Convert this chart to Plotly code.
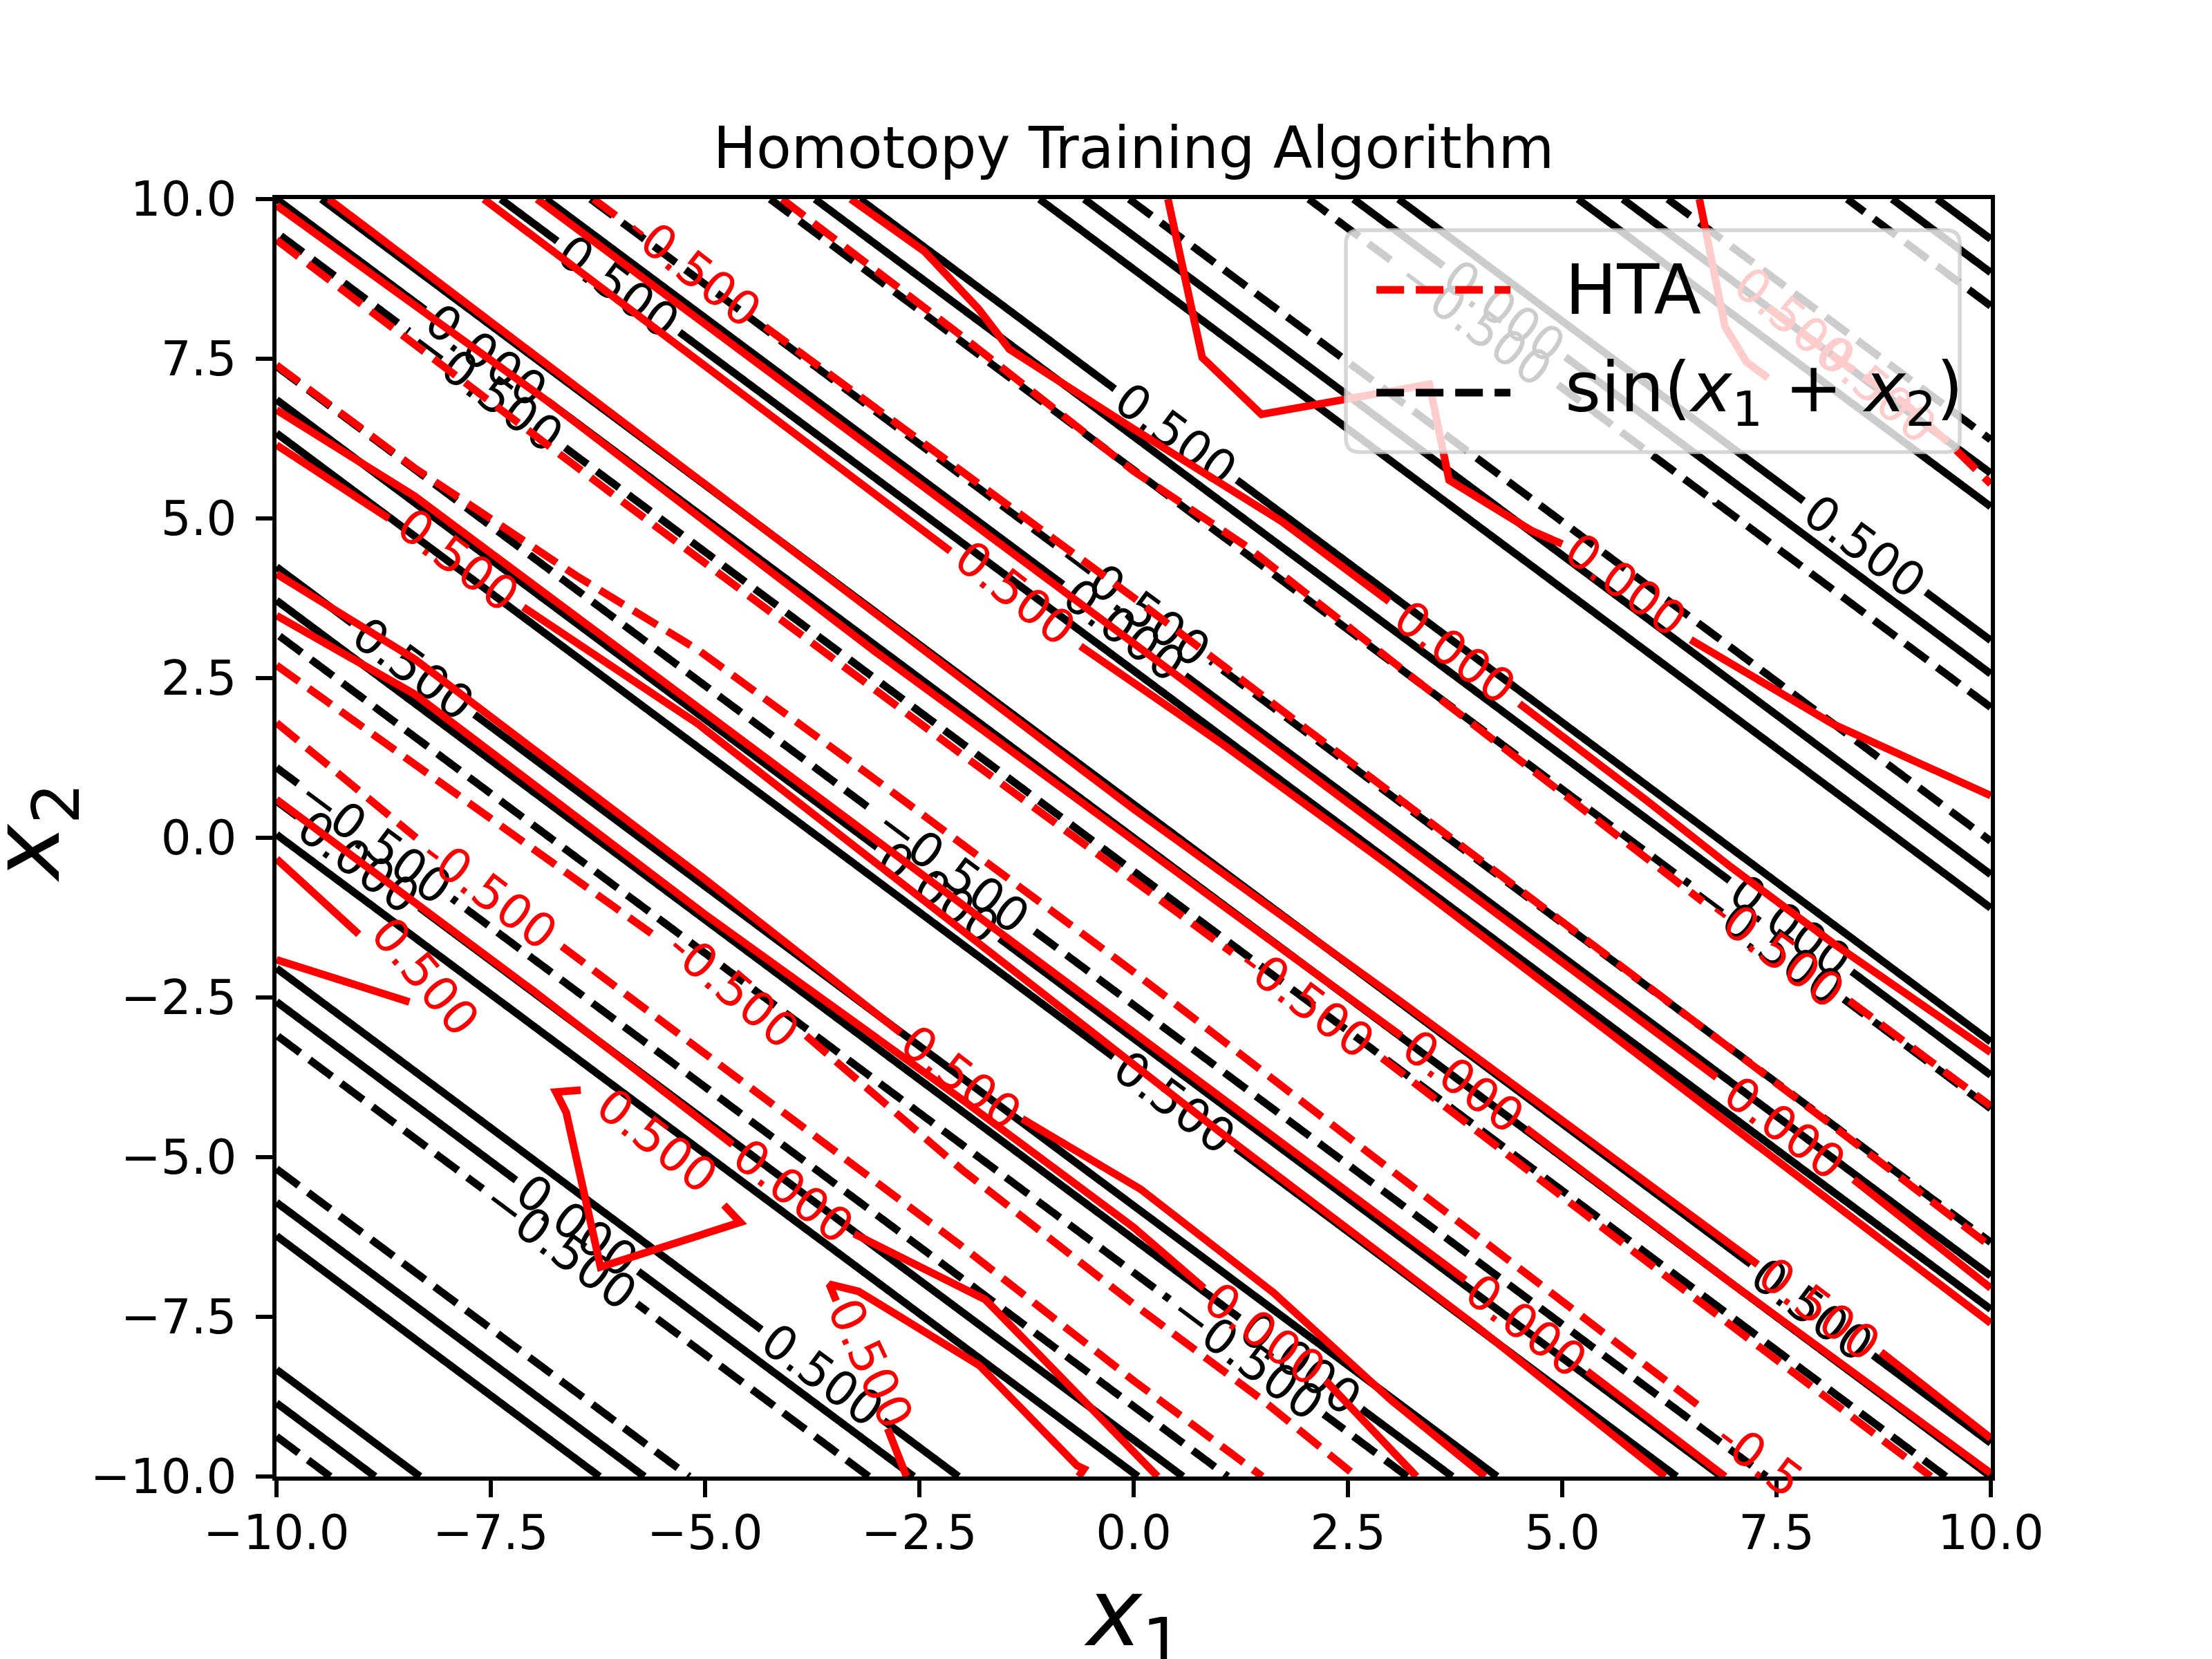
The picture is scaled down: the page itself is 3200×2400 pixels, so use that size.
import numpy as np
import plotly.graph_objects as go

# ---------------- axes / ticks ----------------
x_tick_vals = [-10.0, -7.5, -5.0, -2.5, 0.0, 2.5, 5.0, 7.5, 10.0]
x_tick_text = ["\u221210.0", "\u22127.5", "\u22125.0", "\u22122.5", "0.0", "2.5", "5.0", "7.5", "10.0"]
y_tick_vals = [-10.0, -7.5, -5.0, -2.5, 0.0, 2.5, 5.0, 7.5, 10.0]
y_tick_text = ["\u221210.0", "\u22127.5", "\u22125.0", "\u22122.5", "0.0", "2.5", "5.0", "7.5", "10.0"]

# ---------------- target function sin(x1 + x2) ----------------
x1_samples = np.linspace(-10, 10, 401)
x2_samples = np.linspace(-10, 10, 401)
target_dashed_level = -0.5
target_solid_levels = [0.0, 0.5]

# ---------------- HTA contour lines ----------------
# level 0.5 / 0.0 -> solid, level -0.5 -> dashed ; None = gap under a label
c1_p5_x = [-7.58, -4.5, -2.14, None, -0.62, 1.0, 3.0, 5.5, 8.0, 10.0]
c1_p5_y = [10.0, 6.9, 4.49, None, 3.0, 1.5, -0.45, -3.0, -5.55, -7.6]
c1_0_x = [-6.96, -4.0, -1.0, 2.0, 5.0, 6.8, None, 8.4, 10.0]
c1_0_y = [10.0, 7.05, 4.05, 1.05, -1.95, -3.75, None, -5.35, -7.05]
c1_m5_x = [-6.3, -5.95, None, -4.3, -1.0, 0.0, 2.0, 5.0, 8.0, 10.0]
c1_m5_y = [10.0, 9.65, None, 8.0, 4.72, 3.76, 1.72, -1.3, -4.35, -6.4]

c2_m5_x = [-4.1, -2.0, 0.0, 1.33, 3.32, 6.64, None, 8.35, 10.0]
c2_m5_y = [10.0, 7.85, 5.74, 4.55, 2.44, -1.0, None, -2.55, -4.2]
c2_0_x = [-3.3, -2.44, -1.81, -1.45, 0.0, 1.73, 2.98, None, 4.5, 5.97, 6.97, 8.16, 10.0]
c2_0_y = [10.0, 9.18, 8.28, 7.65, 6.4, 4.95, 3.7, None, 2.1, 0.6, -0.46, -1.65, -3.36]

c3_0_x = [0.4, 0.8, 1.49, 2.65, 3.45, 3.68, 4.64, 5.0, None, 6.5, 8.16, 10.0]
c3_0_y = [10.0, 7.52, 6.63, 6.92, 7.1, 5.6, 4.81, 4.6, None, 3.1, 1.78, 0.66]

c5_0_x = [6.6, 6.77, 6.9, 7.15, 7.4]
c5_0_y = [10.0, 8.9, 8.0, 7.45, 7.2]
c5_m5_x = [7.4, 8.2, 9.0, 9.55, 10.0]
c5_m5_y = [8.3, 7.5, 6.8, 6.13, 5.54]

c0_m5_x = [-10.0, -6.0, -2.0, 0.0, 1.15, None, 2.9, 6.0, 9.3]
c0_m5_y = [9.36, 5.3, 1.3, -0.65, -1.8, None, -3.45, -6.65, -10.0]
c0_0_x = [-10.0, -6.8, -3.0, 0.0, 3.12, None, 4.58, 7.0, 10.0]
c0_0_y = [9.9, 6.8, 2.9, -0.05, -3.1, None, -4.55, -7.0, -9.95]
c0_p5_x = [-9.39, -6.27, -3.0, 0.0, 3.0, 7.28, None, 8.72, 10.0]
c0_p5_y = [10.0, 6.82, 3.5, 0.45, -2.45, -6.68, None, -8.05, -9.4]

cm1_m5_x = [-10.0, -8.39, -6.5, -5.08, -3.0, 0.0, 3.0, 5.0, 6.6]
cm1_m5_y = [7.4, 5.79, 4.1, 2.94, 0.9, -2.1, -5.2, -7.25, -8.9]
cm1_0_x = [-10.0, -8.39, -5.08, -2.0, 1.0, 3.87, None, 5.29, 6.9]
cm1_0_y = [6.7, 5.35, 2.04, -1.05, -4.05, -6.92, None, -8.35, -10.0]
cm1_p5_x = [-10.0, -8.69, None, -7.12, -5.08, -2.0, 1.0, 4.0, 6.2]
cm1_p5_y = [6.15, 5.0, None, 3.61, 1.78, -1.45, -4.6, -7.65, -10.0]

cm2_p5_x = [-10.0, -8.39, -5.0, -2.72, None, -1.3, 0.08, 1.63, 3.0, 4.1]
cm2_p5_y = [4.13, 2.8, -0.65, -3.05, None, -4.4, -5.5, -7.12, -8.8, -10.0]
cm2_0_x = [-10.0, -8.39, -5.0, -2.0, 0.0, 0.82, None, 2.24, 3.3]
cm2_0_y = [3.48, 2.25, -1.2, -4.1, -6.1, -7.05, None, -8.5, -10.0]
cm2_m5_x = [-10.0, -7.0, -5.52, None, -3.82, -2.0, 0.0, 1.5, 2.6]
cm2_m5_y = [2.7, -0.2, -1.6, None, -3.1, -5.2, -7.3, -8.8, -10.0]

cm3_m5_x = [-10.0, -8.37, None, -6.67, -4.5, -2.0, 0.0, 1.5]
cm3_m5_y = [1.8, 0.0, None, -1.7, -3.9, -6.4, -8.5, -10.0]
cm3_0_x = [-10.0, -7.0, -4.68, None, -3.26, -1.73, -0.59, 0.28]
cm3_0_y = [0.6, -2.4, -4.8, None, -6.2, -7.23, -8.8, -10.0]
cm3_u_x = [-10.0, -9.04, None, -8.45, -10.0]
cm3_u_y = [-0.33, -1.51, None, -2.57, -1.91]
cm3_tri_x = [-4.78, -4.59, -6.22, -6.62, -6.74, -6.45]
cm3_tri_y = [-5.75, -6.02, -6.72, -4.3, -3.98, -3.95]
cm3_hook_x = [-2.65, -2.87, None, -3.47, -3.55, -3.21, -1.8, -0.66, -0.58, -0.64]
cm3_hook_y = [-10.0, -9.25, None, -7.25, -6.99, -7.1, -8.26, -9.83, -9.88, -10.0]

hta_lines = [
    (c1_p5_x, c1_p5_y, 0.5), (c1_0_x, c1_0_y, 0.0), (c1_m5_x, c1_m5_y, -0.5),
    (c2_m5_x, c2_m5_y, -0.5), (c2_0_x, c2_0_y, 0.0),
    (c3_0_x, c3_0_y, 0.0),
    (c5_0_x, c5_0_y, 0.0), (c5_m5_x, c5_m5_y, -0.5),
    (c0_m5_x, c0_m5_y, -0.5), (c0_0_x, c0_0_y, 0.0), (c0_p5_x, c0_p5_y, 0.5),
    (cm1_m5_x, cm1_m5_y, -0.5), (cm1_0_x, cm1_0_y, 0.0), (cm1_p5_x, cm1_p5_y, 0.5),
    (cm2_p5_x, cm2_p5_y, 0.5), (cm2_0_x, cm2_0_y, 0.0), (cm2_m5_x, cm2_m5_y, -0.5),
    (cm3_m5_x, cm3_m5_y, -0.5), (cm3_0_x, cm3_0_y, 0.0), (cm3_u_x, cm3_u_y, 0.5),
    (cm3_tri_x, cm3_tri_y, 0.5), (cm3_hook_x, cm3_hook_y, 0.5),
]

# HTA contour labels
hta_label_x1 = [-5.13, -1.38, -7.88, -7.52, -8.26, -4.67, -2.01, -5.56, -3.97, -3.07,
                2.02, 3.85, 7.6, 4.58, 8.0, 1.53, 7.3, 7.5, 5.74, 3.75]
hta_label_x2 = [8.9, 3.83, 4.35, -0.855, -2.17, -2.37, -3.75, -4.74, -5.53, -8.24,
                -2.57, -3.82, -4.55, -7.64, -7.38, -7.77, -9.72, -1.78, 3.96, 2.9]
hta_label_text = ["-0.500", "0.500", "0.500", "-0.500", "0.500", "-0.500", "0.500", "0.500", "0.000", "0.500",
                  "-0.500", "0.000", "0.000", "0.000", "0.500", "0.000", "-0.5", "-0.500", "0.000", "0.000"]
hta_label_angle = [38, 38, 37, 37, 50, 40, 38, 38, 38, 65,
                   37, 37, 37, 37, 37, 37, 37, 37, 37, 37]
# faded labels seen through the legend box
faded_label_x1 = [7.7, 8.6]
faded_label_x2 = [8.1, 7.1]
faded_label_text = ["0.500", "-0.500"]

# ---------------- styles ----------------
FONT = "DejaVu Sans"
LW = 11
DASH = "40px,17px"
TICK_FS = 69

fig = go.Figure()

# HTA (red) lines
for xs, ys, lev in hta_lines:
    fig.add_trace(go.Scatter(
        x=xs, y=ys, mode="lines",
        line=dict(color="#ff0000", width=LW, dash=DASH if lev < 0 else "solid"),
        hoverinfo="skip", showlegend=False))

# target sin(x1+x2) contours (black)
Z = np.sin(x1_samples[None, :] + x2_samples[:, None])
black_scale = [[0, "black"], [1, "black"]]
fig.add_trace(go.Contour(
    x=x1_samples, y=x2_samples, z=Z, autocontour=False,
    contours=dict(start=target_dashed_level, end=target_dashed_level, size=1,
                  coloring="lines", showlabels=True, labelformat=".3f",
                  labelfont=dict(family=FONT, size=TICK_FS, color="black")),
    colorscale=black_scale, showscale=False,
    line=dict(width=LW, dash=DASH), hoverinfo="skip", showlegend=False))
fig.add_trace(go.Contour(
    x=x1_samples, y=x2_samples, z=Z, autocontour=False,
    contours=dict(start=target_solid_levels[0], end=target_solid_levels[-1],
                  size=target_solid_levels[1] - target_solid_levels[0],
                  coloring="lines", showlabels=True, labelformat=".3f",
                  labelfont=dict(family=FONT, size=TICK_FS, color="black")),
    colorscale=black_scale, showscale=False,
    line=dict(width=LW, dash="solid"), hoverinfo="skip", showlegend=False))

annotations = []
for x, y, t, a in zip(hta_label_x1, hta_label_x2, hta_label_text, hta_label_angle):
    annotations.append(dict(x=x, y=y, xref="x", yref="y", text=t, showarrow=False,
                            textangle=a, font=dict(family=FONT, size=TICK_FS, color="#ff0000")))

# legend box (semi-transparent, drawn manually to match handle lengths)
lx0, lx1, ly0, ly1 = 0.6238, 0.9819, 0.8020, 0.9756
rx, ry = 0.008, 0.0107
legend_path = (f"M {lx0+rx},{ly0} L {lx1-rx},{ly0} Q {lx1},{ly0} {lx1},{ly0+ry} "
               f"L {lx1},{ly1-ry} Q {lx1},{ly1} {lx1-rx},{ly1} L {lx0+rx},{ly1} "
               f"Q {lx0},{ly1} {lx0},{ly1-ry} L {lx0},{ly0+ry} Q {lx0},{ly0} {lx0+rx},{ly0} Z")
shapes = [
    dict(type="path", path=legend_path, xref="paper", yref="paper",
         fillcolor="rgba(255,255,255,0.8)", line=dict(color="rgba(204,204,204,0.8)", width=5.5),
         layer="above"),
    dict(type="line", xref="paper", yref="paper", x0=0.6416, x1=0.7198, y0=0.929, y1=0.929,
         line=dict(color="#ff0000", width=LW, dash=DASH), layer="above"),
    dict(type="line", xref="paper", yref="paper", x0=0.6416, x1=0.7198, y0=0.8485, y1=0.8485,
         line=dict(color="black", width=LW, dash=DASH), layer="above"),
]
for x, y, t in zip(faded_label_x1, faded_label_x2, faded_label_text):
    annotations.append(dict(x=x, y=y, xref="x", yref="y", text=t, showarrow=False,
                            textangle=40, font=dict(family=FONT, size=TICK_FS, color="#ffcccc")))
annotations += [
    dict(x=0.751, y=0.929, xref="paper", yref="paper", xanchor="left", yanchor="middle",
         text="HTA", showarrow=False, font=dict(family=FONT, size=100, color="black")),
    dict(x=0.751, y=0.8485, xref="paper", yref="paper", xanchor="left", yanchor="middle",
         text="sin(<i>x</i><sub>1</sub> + <i>x</i><sub>2</sub>)", showarrow=False,
         font=dict(family=FONT, size=100, color="black")),
    dict(x=0.5, y=-0.112, xref="paper", yref="paper", xanchor="center", yanchor="middle",
         text="<i>x</i><sub>1</sub>", showarrow=False, font=dict(family=FONT, size=135, color="black")),
    dict(x=-0.142, y=0.504, xref="paper", yref="paper", xanchor="center", yanchor="middle",
         text="<i>x</i><sub>2</sub>", textangle=-90, showarrow=False,
         font=dict(family=FONT, size=135, color="black")),
]

axis_common = dict(showgrid=False, zeroline=False, showline=True, linecolor="black",
                   linewidth=5.5, mirror=True, ticks="outside", ticklen=24, tickwidth=5.5,
                   tickcolor="black", tickfont=dict(family=FONT, size=TICK_FS, color="black"))
fig.update_layout(
    width=3200, height=2400,
    margin=dict(l=392, r=328, t=280, b=272),
    paper_bgcolor="white", plot_bgcolor="white",
    title=dict(text="Homotopy Training Algorithm", x=0.5, xref="paper", xanchor="center",
               y=0.914, yanchor="middle", font=dict(family=FONT, size=83, color="black")),
    xaxis=dict(range=[-10, 10], tickvals=x_tick_vals, ticktext=x_tick_text,
               ticklabelstandoff=-8, **axis_common),
    yaxis=dict(range=[-10, 10], tickvals=y_tick_vals, ticktext=y_tick_text,
               ticklabelstandoff=14, **axis_common),
    shapes=shapes, annotations=annotations, showlegend=False,
)

fig.write_html("out.html")
